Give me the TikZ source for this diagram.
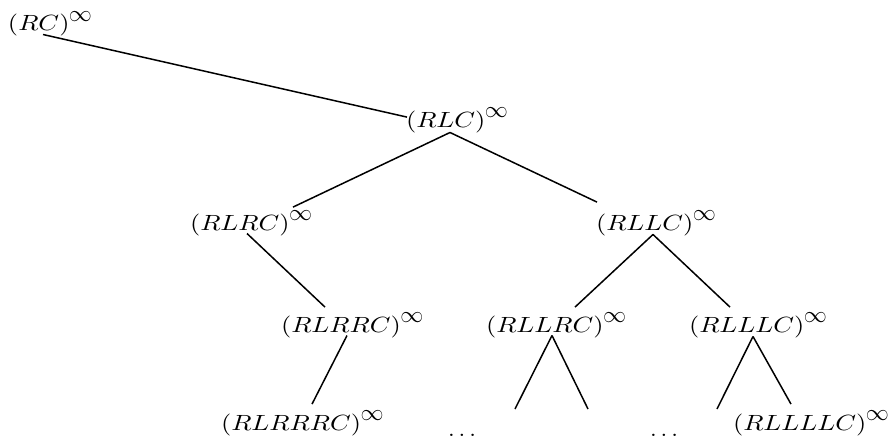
\documentclass[tikz,border=0pt]{standalone}
\usepackage{graphicx}
\newcommand{\wlab}[1]{\scalebox{1.32}[1.1]{$(#1)$}\kern-0.3pt\rlap{\raisebox{5pt}{\scalebox{1.15}{$\infty$}}}}
\tikzset{
  lbl/.style={inner sep=0pt, outer sep=0pt, anchor=base west},
  br/.style={line width=0.75pt}
}
\begin{document}
\begin{tikzpicture}[x=0.5pt,y=-0.5pt]
\useasboundingbox (0,0) rectangle (895,439);
% nodes
\node[lbl] (RC)     at (8,31)    {\wlab{RC}};
\node[lbl] (RLC)    at (406,127) {\wlab{RLC}};
\node[lbl] (RLRC)   at (190,230) {\wlab{RLRC}};
\node[lbl] (RLLC)   at (596,230) {\wlab{RLLC}};
\node[lbl] (RLRRC)  at (281,332) {\wlab{RLRRC}};
\node[lbl] (RLLRC)  at (486,332) {\wlab{RLLRC}};
\node[lbl] (RLLLC)  at (689,332) {\wlab{RLLLC}};
\node[lbl] (RLRRRC) at (221,430) {\wlab{RLRRRC}};
\node[lbl] (RLLLLC) at (733,430) {\wlab{RLLLLC}};
\node[lbl] (dotsA)  at (448,436) {\scalebox{1.2}[1.1]{$\ldots$}};
\node[lbl] (dotsB)  at (650,436) {\scalebox{1.2}[1.1]{$\ldots$}};
% free ends
\coordinate (fA) at (515,409);
\coordinate (fB) at (588,409);
\coordinate (fC) at (717,409);
% edges
\draw[br] ([shift={(35,-2)}]RC.south west) -- ([shift={(1,10)}]RLC.north west);
\draw[br] ([shift={(44,0)}]RLC.south west) -- ([shift={(103,-3)}]RLRC.north west);
\draw[br] ([shift={(44,0)}]RLC.south west) -- ([shift={(1,-8)}]RLLC.north west);
\draw[br] ([shift={(57,-2)}]RLRC.south west) -- ([shift={(44,-5)}]RLRRC.north west);
\draw[br] ([shift={(57,-1)}]RLLC.south west) -- ([shift={(89,-5)}]RLLRC.north west);
\draw[br] ([shift={(57,-1)}]RLLC.south west) -- ([shift={(41,-5)}]RLLLC.north west);
\draw[br] ([shift={(66,-2)}]RLRRC.south west) -- ([shift={(91,-6)}]RLRRRC.north west);
\draw[br] ([shift={(66,-2)}]RLLRC.south west) -- (fA);
\draw[br] ([shift={(66,-2)}]RLLRC.south west) -- (fB);
\draw[br] ([shift={(64,-1)}]RLLLC.south west) -- (fC);
\draw[br] ([shift={(64,-1)}]RLLLC.south west) -- ([shift={(58,-6)}]RLLLLC.north west);
\end{tikzpicture}
\end{document}
